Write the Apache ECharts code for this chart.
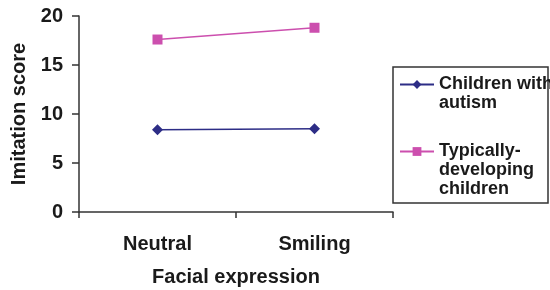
<!DOCTYPE html>
<html>
<head>
<meta charset="utf-8">
<script src="https://cdn.jsdelivr.net/npm/echarts@6/dist/echarts.min.js"></script>
<style>
  body { margin: 0; background: #fff; }
  #chart { width: 550px; height: 290px; }
</style>
</head>
<body>
<div id="chart"></div>
<script>
var categories = ['Neutral', 'Smiling'];
var autismScores = [8.4, 8.5];
var typicalScores = [17.6, 18.8];
var seriesNames = ['Children with\nautism', 'Typically-\ndeveloping\nchildren'];
var yTicks = { min: 0, max: 20, interval: 5 };

var font = 'Liberation Sans, Arial, sans-serif';
var ink = '#1a1a1a';

// legend text is centred on its icon; pad with empty lines on top so the
// icon sits level with the first line, as in the original
function padTop(name) {
  var n = name.split('\n').length;
  return new Array(n).join('\n') + name;
}

var legendText = { fontFamily: font, fontWeight: 'bold', fontSize: 18, color: ink, lineHeight: 19 };

var chart = echarts.init(document.getElementById('chart'));
chart.setOption({
  backgroundColor: '#ffffff',
  animation: false,
  grid: { left: 79, right: 157, top: 16, bottom: 78, outerBoundsMode: 'none', containLabel: false },
  xAxis: {
    type: 'category',
    data: categories,
    boundaryGap: true,
    name: 'Facial expression',
    nameLocation: 'middle',
    nameGap: 55,
    nameTextStyle: { fontFamily: font, fontWeight: 'bold', fontSize: 20, color: ink },
    axisLine: { lineStyle: { color: '#333', width: 1.5 } },
    axisTick: { show: true, interval: 0, length: 6, lineStyle: { color: '#333', width: 1.5 } },
    axisLabel: { fontFamily: font, fontWeight: 'bold', fontSize: 20, color: ink, margin: 22 },
    splitLine: { show: false }
  },
  yAxis: {
    type: 'value',
    min: yTicks.min,
    max: yTicks.max,
    interval: yTicks.interval,
    name: 'Imitation score',
    nameLocation: 'middle',
    nameGap: 45,
    nameTextStyle: { fontFamily: font, fontWeight: 'bold', fontSize: 20, color: ink },
    axisLine: { show: true, lineStyle: { color: '#333', width: 1.5 } },
    axisTick: { show: true, length: 7, lineStyle: { color: '#333', width: 1.5 } },
    axisLabel: { fontFamily: font, fontWeight: 'bold', fontSize: 20, color: ink, margin: 16 },
    splitLine: { show: false }
  },
  legend: [{
    orient: 'vertical',
    left: 399,
    top: 56,
    padding: 0,
    itemWidth: 34,
    itemHeight: 11,
    formatter: padTop,
    data: [seriesNames[0]],
    textStyle: legendText
  }, {
    orient: 'vertical',
    left: 399,
    top: 104,
    padding: 0,
    itemWidth: 34,
    itemHeight: 11,
    formatter: padTop,
    data: [seriesNames[1]],
    textStyle: legendText
  }],
  graphic: [{
    type: 'rect',
    shape: { x: 393, y: 67, width: 155, height: 136 },
    style: { fill: 'none', stroke: '#333', lineWidth: 1.5 }
  }],
  series: [{
    name: seriesNames[0],
    type: 'line',
    data: autismScores,
    symbol: 'diamond',
    symbolSize: 11,
    itemStyle: { color: '#2d2d86' },
    lineStyle: { color: '#2d2d86', width: 1.5 }
  }, {
    name: seriesNames[1],
    type: 'line',
    data: typicalScores,
    symbol: 'rect',
    symbolSize: 10,
    itemStyle: { color: '#cc4fae' },
    lineStyle: { color: '#cc4fae', width: 1.5 }
  }]
});
</script>
</body>
</html>
